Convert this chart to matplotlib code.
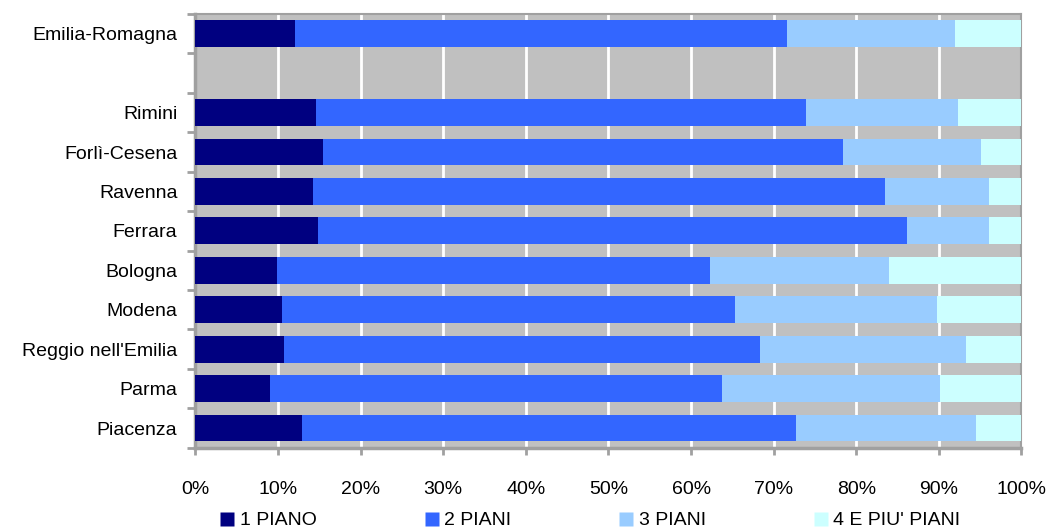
import numpy as np
import matplotlib
matplotlib.use('Agg')
import matplotlib.pyplot as plt
from matplotlib.lines import Line2D

plt.rcParams['font.family'] = ['Liberation Sans', 'DejaVu Sans']

# categories bottom -> top, '' is the empty spacer row
categories = ['Piacenza', 'Parma', "Reggio nell'Emilia", 'Modena', 'Bologna',
              'Ferrara', 'Ravenna', 'Forlì-Cesena', 'Rimini', '', 'Emilia-Romagna']

series_names = ['1 PIANO', '2 PIANI', '3 PIANI', "4 E PIU' PIANI"]
colors = ['#000080', '#3366FF', '#99CCFF', '#CCFFFF']

piano_1 = [12.9, 9.0, 10.7, 10.5, 9.9, 14.8, 14.2, 15.4, 14.6, 0, 12.0]
piani_2 = [59.8, 54.7, 57.6, 54.8, 52.4, 71.4, 69.3, 63.0, 59.3, 0, 59.6]
piani_3 = [21.8, 26.4, 25.0, 24.5, 21.7, 9.9, 12.6, 16.7, 18.4, 0, 20.3]
piani_4 = [5.5, 9.9, 6.7, 10.2, 16.0, 3.9, 3.9, 4.9, 7.7, 0, 8.1]

data = np.array([piano_1, piani_2, piani_3, piani_4])

fig = plt.figure(figsize=(10.52, 5.28), dpi=100)
ax = fig.add_axes([0.1858, 0.152, 0.7852, 0.8215])
ax.set_facecolor('#C0C0C0')

y = np.arange(len(categories))
left = np.zeros(len(categories))
for vals, col in zip(data, colors):
    ax.barh(y, vals, left=left, height=0.68, color=col, edgecolor='none', zorder=3)
    left += vals

ax.set_xlim(0, 100)
ax.set_ylim(-0.5, len(categories) - 0.5)

ax.set_xticks(np.arange(0, 101, 10))
ax.set_xticklabels([f'{v}%' for v in range(0, 101, 10)])
ax.grid(axis='x', color='white', linewidth=2, zorder=1)
ax.set_axisbelow(True)

# ticks at the boundaries, labels in the middle
ax.set_yticks(np.arange(-0.5, len(categories), 1.0))
ax.set_yticklabels([])
ax.set_yticks(y, minor=True)
ax.set_yticklabels(categories, minor=True)
ax.tick_params(axis='y', which='major', length=6, width=2, color='#A0A0A0', direction='out')
ax.tick_params(axis='y', which='minor', length=0, pad=13, labelsize=14)
ax.tick_params(axis='x', length=5, width=2, color='#A0A0A0', direction='out',
               pad=19, labelsize=14)

for side, lw in [('left', 2.5), ('bottom', 2.5), ('top', 1.5), ('right', 1.5)]:
    ax.spines[side].set_color('#A0A0A0')
    ax.spines[side].set_linewidth(lw)

handles = [Line2D([], [], marker='s', linestyle='none', markersize=10,
                  markerfacecolor=c, markeredgecolor='none') for c in colors]
fig.legend(handles, series_names, loc='center', bbox_to_anchor=(0.56, 0.014),
           ncol=4, frameon=False, fontsize=14, handletextpad=0.15,
           columnspacing=5.4, handlelength=1.0)

fig.savefig('out.png', dpi=100)
